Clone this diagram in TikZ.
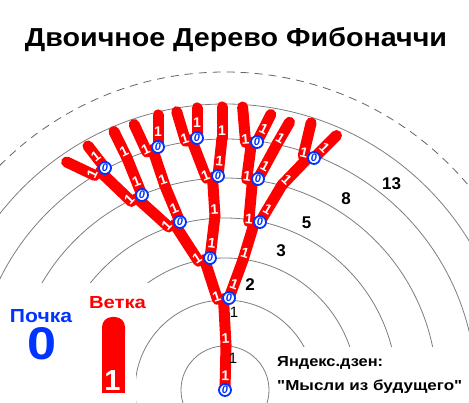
\documentclass[tikz,border=0pt]{standalone}
\usepackage{fontspec}
\usepackage{graphicx}
\setmainfont{Liberation Sans}
\newfontfamily\lsans{Liberation Sans}
\usetikzlibrary{calc}
\definecolor{budblue}{RGB}{0,51,255}
\definecolor{ringgray}{RGB}{125,125,125}
\definecolor{treered}{RGB}{255,0,0}
\newcommand\BR{}
\newcommand\treebars{%
\BR{R}{P1}{14pt}%
\BR{P1}{MB2}{7pt}%
\BR{LB2}{MB3}{3pt}%
\BR{B2}{P3}{15pt}%
\BR{P3}{MB4b}{7pt}%
\BR{LB3}{MB4a}{3pt}%
\BR{B3}{P4}{15pt}%
\BR{P4}{MB5b}{7pt}%
\BR{LB4a}{MB5a}{3pt}%
\BR{B4a}{P5a}{15pt}%
\BR{P5a}{MB6b}{7pt}%
\BR{LB4b}{MB5c}{3pt}%
\BR{B4b}{P5c}{15pt}%
\BR{P5c}{MB6e}{7pt}%
\BR{LB5a}{MB6a}{3pt}%
\BR{B5a}{P6a}{15pt}%
\BR{P6a}{T3}{7pt}%
\BR{LB5b}{MB6c}{3pt}%
\BR{B5b}{P6b}{15pt}%
\BR{P6b}{T8}{7pt}%
\BR{LB5c}{MB6d}{3pt}%
\BR{B5c}{P6c}{15pt}%
\BR{P6c}{T11}{7pt}%
\BR{LB6a}{T1}{3pt}%
\BR{B6a}{T2}{15pt}%
\BR{LB6b}{T4}{3pt}%
\BR{B6b}{T5}{15pt}%
\BR{LB6c}{T6}{3pt}%
\BR{B6c}{T7}{15pt}%
\BR{LB6d}{T9}{3pt}%
\BR{B6d}{T10}{15pt}%
\BR{LB6e}{T12}{3pt}%
\BR{B6e}{T13}{15pt}%
}
\begin{document}
\begin{tikzpicture}[x=1pt,y=-1pt,
  ring/.style={draw=ringgray, line width=0.8pt},
  dashring/.style={draw=ringgray!80!black, line width=0.8pt, dash pattern=on 8pt off 6pt},
  branch/.style={draw=treered, line width=11pt, line cap=round},
  onelab/.style={text=white, font=\lsans\bfseries\fontsize{14}{14}\selectfont, inner sep=0pt},
  bud/.style={circle, draw=budblue, fill=white, line width=1.8pt, minimum size=12pt, inner sep=0pt, text=budblue, font=\lsans\bfseries\itshape\fontsize{11}{11}\selectfont},
  count/.style={font=\lsans\bfseries\fontsize{17}{17}\selectfont, inner sep=0pt},
  countone/.style={font=\lsans\fontsize{15}{15}\selectfont, inner sep=0pt},
  txt/.style={inner sep=0pt, font=\lsans\bfseries\fontsize{14.5}{14.5}\selectfont},
]
\useasboundingbox (0,0) rectangle (469,403);
% positions
\coordinate (C) at (225,390);
\coordinate (R) at (225,390);
\coordinate (P1) at (226,345);
\coordinate (B2) at (229,298);
\coordinate (B3) at (210,258);
\coordinate (P3) at (243,260);
\coordinate (B4a) at (180,222);
\coordinate (B4b) at (260,222);
\coordinate (P4) at (215,216);
\coordinate (B5a) at (142,195);
\coordinate (B5b) at (218,176);
\coordinate (B5c) at (258,179);
\coordinate (P5a) at (165,186);
\coordinate (P5c) at (282,185);
\coordinate (B6a) at (105,168);
\coordinate (B6b) at (158,147);
\coordinate (B6c) at (197,138);
\coordinate (B6d) at (257,142);
\coordinate (B6e) at (314,158);
\coordinate (P6a) at (127,158);
\coordinate (P6b) at (222,138);
\coordinate (P6c) at (277,144);
\coordinate (T1) at (66.6,162);
\coordinate (T2) at (88,146);
\coordinate (T3) at (114,131.5);
\coordinate (T4) at (134.2,124.5);
\coordinate (T5) at (158,115);
\coordinate (T6) at (176.7,111.7);
\coordinate (T7) at (197,108);
\coordinate (T8) at (222,107);
\coordinate (T9) at (242.6,107);
\coordinate (T10) at (270.8,114.5);
\coordinate (T11) at (289.5,122.3);
\coordinate (T12) at (311.1,122.9);
\coordinate (T13) at (336.5,135.5);
\foreach \b in {B2,B3,B4a,B4b,B5a,B5b,B5c,B6a,B6b,B6c,B6d,B6e}{
  \coordinate (L\b) at ($(\b)!11.5pt!-90:(C)+(0,2)$);
  \coordinate (M\b) at ($(\b)!5.5pt!-90:(C)+(0,1)$);
}
% rings
\begin{scope}
\clip (0,0) rectangle (469,403);
\foreach \r in {44pt,90pt,132pt,172pt,212pt,251pt,286pt}
  \draw[ring] (C) circle[radius=\r];
\draw[dashring] (C) circle[radius=318pt];
\end{scope}
% white masks behind the legend and the signature
\fill[white] (0,283) rectangle (136,403);
\fill[white] (85,283) rectangle (150,312);
\fill[white] (272,347) rectangle (469,403);
% branches
\renewcommand\BR[3]{\draw[branch] (#1) -- (#2);}
\treebars
\renewcommand\BR[3]{\path let \p1=($(#2)-(#1)$), \n1={atan2(\y1,\x1)-90} in node[onelab, rotate=\n1] at ($(#1)!#3!(#2)$) {1};}
\treebars
% buds
\foreach \b in {R,B2,B3,B4a,B4b,B5a,B5b,B5c,B6a,B6b,B6c,B6d,B6e}
  \node[bud] (bud\b) at (\b) {0};
% counts
\node[countone] (c1) at (233,358) {1};
\node[countone] (c2) at (234,312) {1};
\node[count] (c3) at (250,284.5) {2};
\node[count] (c4) at (281,251) {3};
\node[count] (c5) at (306.7,223) {5};
\node[count] (c6) at (346,199) {8};
\node[count] (c7) at (391.5,183.5) {13};
% title
\node[anchor=base, inner sep=0pt, font=\lsans\bfseries\fontsize{26}{26}\selectfont] (title) at (236,47) {\resizebox{422pt}{\height}{Двоичное Дерево Фибоначчи}};
% legend
\node[anchor=base, inner sep=0pt, text=budblue, font=\lsans\bfseries\fontsize{18}{18}\selectfont] (pochka) at (41,322.7) {\resizebox{62pt}{13pt}{Почка}};
\node[anchor=base, inner sep=0pt, text=budblue, font=\lsans\bfseries\fontsize{44}{44}\selectfont] (zero) at (42.5,360) {\resizebox{29pt}{32pt}{0}};
\node[anchor=base, inner sep=0pt, text=treered, font=\lsans\bfseries\fontsize{18}{18}\selectfont] (vetka) at (117.5,309) {\resizebox{57pt}{12pt}{Ветка}};
\fill[treered, rounded corners=10pt] (102,317) rectangle (125,345);
\fill[treered] (102,330) rectangle (125,393);
\node[anchor=base, inner sep=0pt, text=white, font=\lsans\bfseries\fontsize{29}{29}\selectfont] (legone) at (112.5,391) {1};
% signature
\node[txt, anchor=base west] (ya1) at (277,366.7) {\resizebox{106pt}{\height}{Яндекс.дзен:}};
\node[txt, anchor=base west] (ya2) at (277,390.5) {\resizebox{185pt}{\height}{"Мысли из будущего"}};
\end{tikzpicture}
\end{document}
